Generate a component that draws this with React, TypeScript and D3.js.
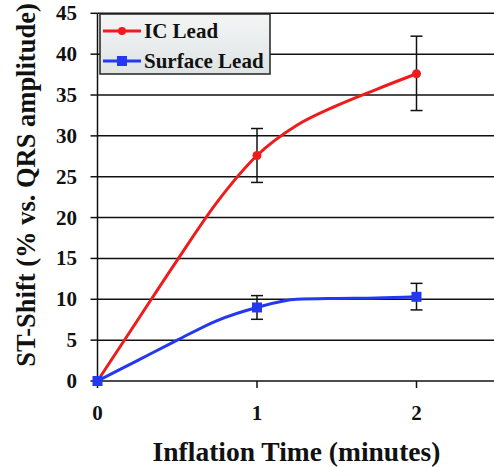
import * as d3 from 'd3';

// minutes along the x axis, with values
const times = [0, 0.25, 0.5, 0.75, 1, 1.25, 1.5, 1.75, 2];
const icLead = [0, 7.4, 14.8, 21.9, 27.6, 31.3, 33.7, 35.7, 37.6];
const surfaceLead = [0, 2.5, 5.0, 7.4, 9.0, 10.0, 10.1, 10.15, 10.3];

// measured points (markers + error bars)
const markTimes = [0, 1, 2];
const icMarks = [0, 27.6, 37.6];
const icLow = [0, 24.3, 33.1];
const icHigh = [0, 30.9, 42.2];
const surfMarks = [0, 9.0, 10.3];
const surfLow = [0, 7.55, 8.7];
const surfHigh = [0, 10.45, 11.95];

const yTicks = [0, 5, 10, 15, 20, 25, 30, 35, 40, 45];
const xTicks = [0, 1, 2];

const RED = '#ee1c1c';
const BLUE = '#2338f0';

const Label = (props: any) => (
    <text fontWeight="bold" fill="#111" fontFamily="Liberation Serif" {...props} />
);

const App = () => {
    const width = 494, height = 467;
    const x = d3.scaleLinear().domain([0, 2.5]).range([97.5, 496.25]);
    const y = d3.scaleLinear().domain([0, 45]).range([381, 13.3]);

    const line = d3.line<number>()
        .x((d, i) => x(times[i]))
        .y((d) => y(d))
        .curve(d3.curveMonotoneX);

    const errorBars = (low: number[], high: number[], key: string) =>
        markTimes.map((t, i) => high[i] - low[i] > 0 && (
            <g key={key + i} stroke="#111" strokeWidth={1.5}>
                <line x1={x(t)} x2={x(t)} y1={y(low[i])} y2={y(high[i])} />
                <line x1={x(t) - 6} x2={x(t) + 6} y1={y(low[i])} y2={y(low[i])} />
                <line x1={x(t) - 6} x2={x(t) + 6} y1={y(high[i])} y2={y(high[i])} />
            </g>
        ));

    return (
        <svg width={width} height={height} style={{ position: 'absolute', left: 0, top: 0 }}>
            <defs>
                <linearGradient id="legendFill" x1="0" y1="0" x2="0" y2="1">
                    <stop offset="0%" stopColor="#f4f6f6" />
                    <stop offset="100%" stopColor="#dfe3e3" />
                </linearGradient>
            </defs>

            {/* grid */}
            {yTicks.map((t) => (
                <line key={'g' + t} x1={x(0)} x2={width} y1={y(t)} y2={y(t)} stroke="#111" strokeWidth={1.5} />
            ))}
            <line x1={x(0)} x2={x(0)} y1={y(45)} y2={y(0)} stroke="#111" strokeWidth={1.5} />

            {/* y ticks */}
            {yTicks.map((t) => (
                <g key={'yt' + t}>
                    <line x1={x(0) - 7} x2={x(0)} y1={y(t)} y2={y(t)} stroke="#111" strokeWidth={1.5} />
                    <Label x={77} y={y(t) + 7} textAnchor="end" fontSize={21}>{t}</Label>
                </g>
            ))}

            {/* x ticks */}
            {xTicks.map((t) => (
                <g key={'xt' + t}>
                    <line x1={x(t)} x2={x(t)} y1={y(0)} y2={y(0) + 7} stroke="#111" strokeWidth={1.5} />
                    <Label x={x(t)} y={420} textAnchor="middle" fontSize={21}>{t}</Label>
                </g>
            ))}

            <Label x={296.5} y={461} textAnchor="middle" fontSize={27.5}>Inflation Time (minutes)</Label>
            <Label transform={`translate(35,${185}) rotate(-90)`} textAnchor="middle" fontSize={26.5}>
                ST-Shift (% vs. QRS amplitude)
            </Label>

            {/* series */}
            {errorBars(icLow, icHigh, 'ic')}
            {errorBars(surfLow, surfHigh, 'sf')}
            <path d={line(icLead) || ''} fill="none" stroke={RED} strokeWidth={3} />
            <path d={line(surfaceLead) || ''} fill="none" stroke={BLUE} strokeWidth={3} />
            {markTimes.map((t, i) => (
                <circle key={'c' + i} cx={x(t)} cy={y(icMarks[i])} r={4.5} fill={RED} />
            ))}
            {markTimes.map((t, i) => (
                <rect key={'s' + i} x={x(t) - 5} y={y(surfMarks[i]) - 5} width={10} height={10} fill={BLUE} />
            ))}

            {/* legend */}
            <rect x={100} y={14} width={170} height={60} fill="url(#legendFill)" stroke="#222" strokeWidth={1.5} />
            <line x1={103} x2={141} y1={31} y2={31} stroke={RED} strokeWidth={3} />
            <circle cx={122} cy={31} r={4} fill={RED} />
            <Label x={144} y={38} fontSize={21}>IC Lead</Label>
            <line x1={103} x2={141} y1={61} y2={61} stroke={BLUE} strokeWidth={3} />
            <rect x={117} y={56} width={10} height={10} fill={BLUE} />
            <Label x={144} y={68} fontSize={21}>Surface Lead</Label>
        </svg>
    );
};

export default App;
